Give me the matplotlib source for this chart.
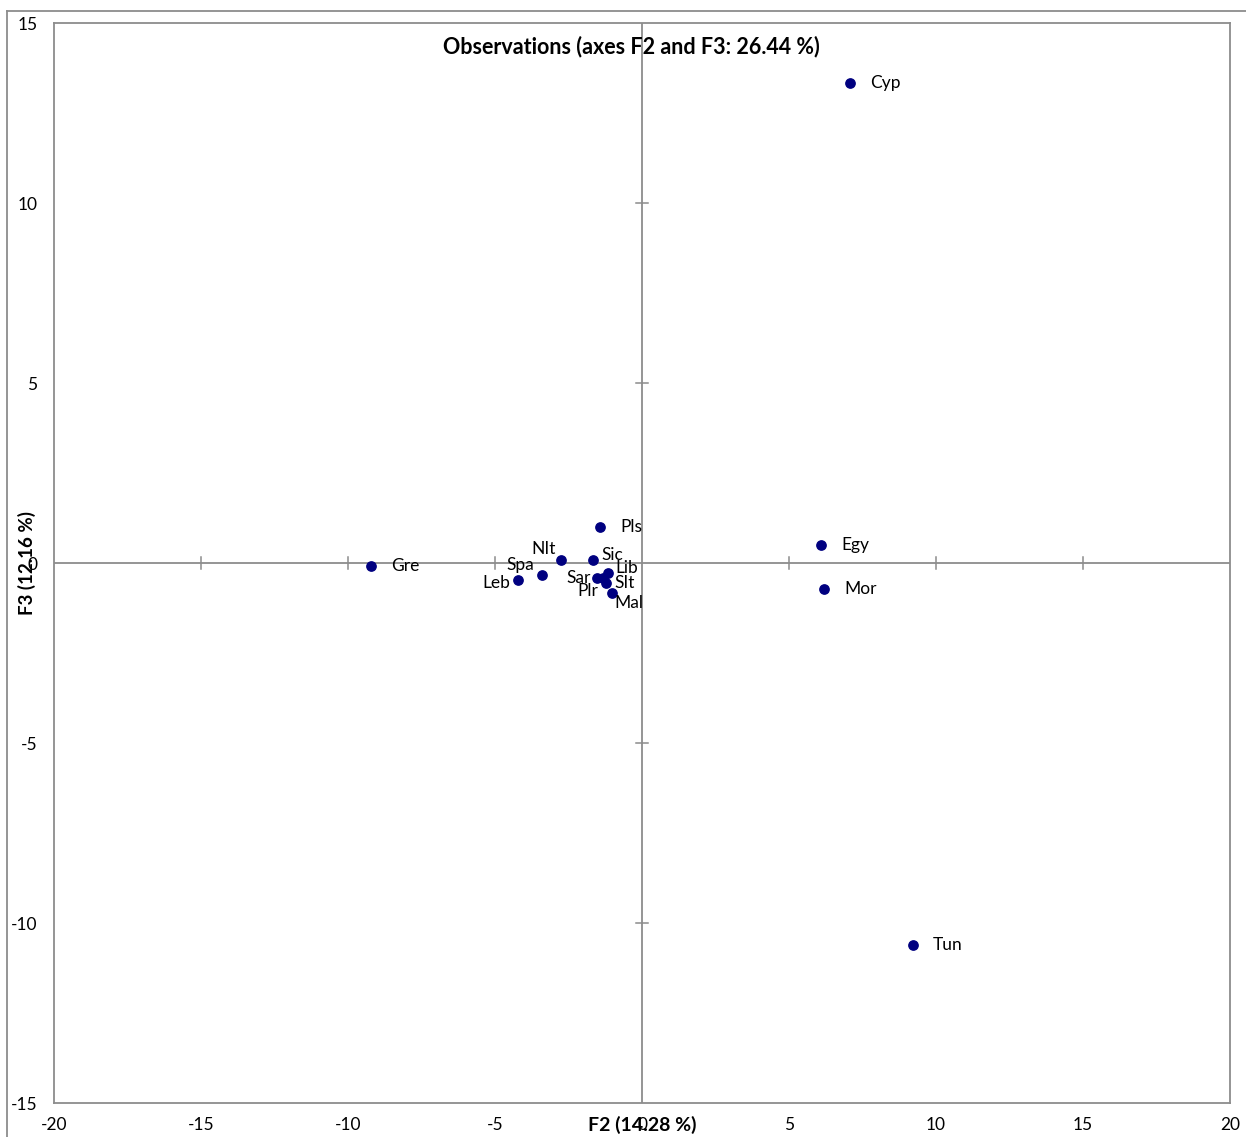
import matplotlib
matplotlib.use("Agg")
import matplotlib.pyplot as plt
from matplotlib.lines import Line2D

plt.rcParams['font.family'] = ['Lato', 'DejaVu Sans']

# Data
labels = ["Cyp", "Egy", "Mor", "Tun", "Gre", "Pls", "NIt", "Sic", "Spa", "Leb",
          "Sar", "Plr", "Lib", "SIt", "Mal"]
f2 = [7.07, 6.09, 6.19, 9.22, -9.22, -1.43, -2.76, -1.66, -3.41, -4.21,
      -1.52, -1.34, -1.15, -1.23, -1.03]
f3 = [13.33, 0.50, -0.72, -10.61, -0.08, 1.00, 0.08, 0.09, -0.34, -0.48,
      -0.42, -0.43, -0.29, -0.56, -0.83]
xticks = [-20, -15, -10, -5, 0, 5, 10, 15, 20]
yticks = [-15, -10, -5, 0, 5, 10, 15]
title = "Observations (axes F2 and F3: 26.44 %)"
xlabel = "F2 (14.28 %)"
ylabel = "F3 (12.16 %)"

# label offsets in pixels (dx, dy, ha)
offsets = {
    "Cyp": (20, 0, "left"), "Egy": (20, 0, "left"), "Mor": (20, 0, "left"),
    "Tun": (20, 0, "left"), "Gre": (20, 0, "left"), "Pls": (20, 0, "left"),
    "NIt": (-5, 11, "right"), "Sic": (8, 5, "left"), "Spa": (-8, 10, "right"),
    "Leb": (-8, -3, "right"), "Sar": (-7, 0, "right"), "Plr": (-4, -13, "right"),
    "Lib": (7, 5, "left"), "SIt": (9, 0, "left"), "Mal": (3, -10, "left"),
}

W, H = 1246, 1137
fig = plt.figure(figsize=(W / 100, H / 100), dpi=100)
L, R, T, B = 54, 1230, 23, 1103
ax = fig.add_axes([L / W, (H - B) / H, (R - L) / W, (B - T) / H])
ax.set_xlim(-20, 20)
ax.set_ylim(-15, 15)
gray = "#8c8c8c"
for s in ax.spines.values():
    s.set_color(gray)
    s.set_linewidth(1.3)
ax.tick_params(length=0, labelsize=12.5)
ax.set_xticks(xticks)
ax.set_yticks(yticks)
ax.set_xticklabels([str(t) for t in xticks])
ax.set_yticklabels([str(t) for t in yticks])
ax.tick_params(axis='x', pad=10)
ax.tick_params(axis='y', pad=12)

# central axes with cross ticks
ax.axhline(0, color=gray, lw=1.3, zorder=1)
ax.axvline(0, color=gray, lw=1.3, zorder=3)
tx = 0.2
ty = 0.17
for t in xticks[1:-1]:
    if t != 0:
        ax.plot([t, t], [-ty, ty], color=gray, lw=1.1, zorder=1)
for t in yticks[1:-1]:
    if t != 0:
        ax.plot([-tx, tx], [t, t], color=gray, lw=1.1, zorder=1)

ax.scatter(f2, f3, s=45, color="#000080", zorder=4)
for lab, x, y in zip(labels, f2, f3):
    dx, dy, ha = offsets[lab]
    ax.annotate(lab, (x, y), xytext=(dx * 0.72, dy * 0.72), textcoords="offset points",
                ha=ha, va="center", fontsize=12.5, color="black", zorder=5)

fig.text(631 / W, 1 - 47 / H, title, ha="center", va="center", fontsize=15.5,
         fontweight="bold", zorder=2)
fig.text(642 / W, 1 - 1125 / H, xlabel, ha="center", va="center", fontsize=14,
         fontweight="bold")
fig.text(27 / W, 1 - 563 / H, ylabel, ha="center", va="center", fontsize=13.5,
         fontweight="bold", rotation=90)

# outer border
fig.add_artist(Line2D([7 / W, 7 / W], [0, 1 - 11 / H], transform=fig.transFigure,
                      color=gray, lw=1.3))
fig.add_artist(Line2D([7 / W, 1], [1 - 11 / H, 1 - 11 / H], transform=fig.transFigure,
                      color=gray, lw=1.3))

fig.savefig("out.png", dpi=100)
